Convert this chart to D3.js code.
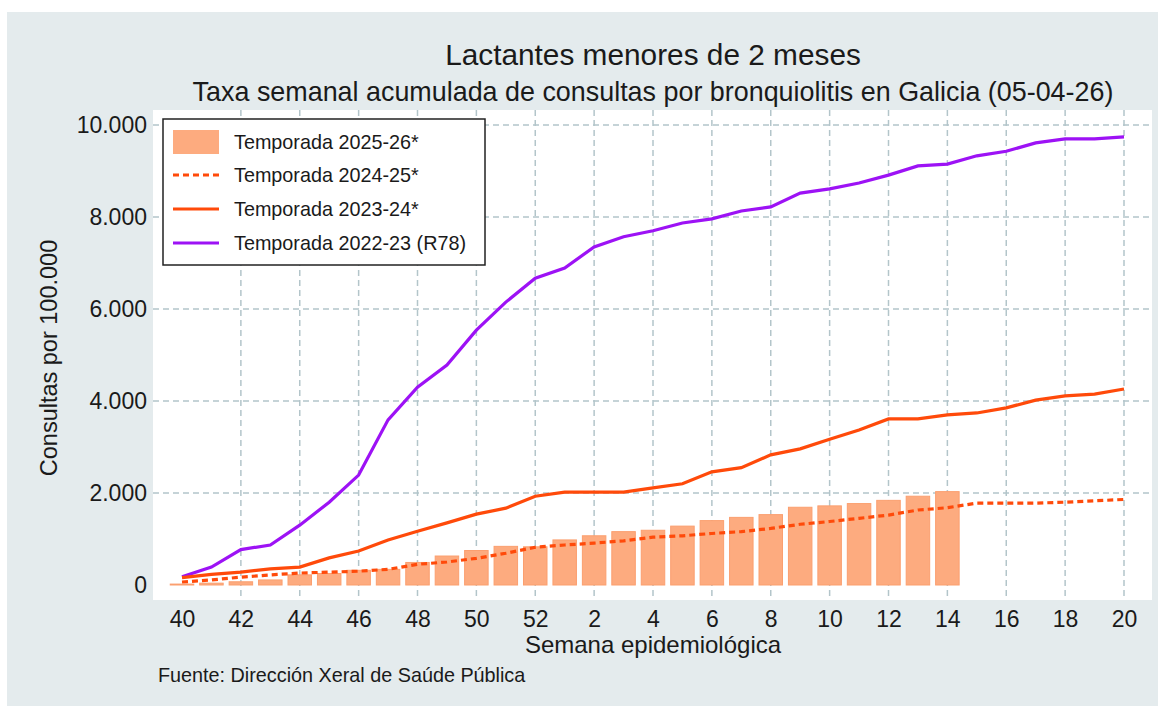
<!DOCTYPE html>
<html>
<head>
<meta charset="utf-8">
<script src="https://cdn.jsdelivr.net/npm/d3@7"></script>
<style>
  body { margin: 0; background: #ffffff; }
  svg { display: block; font-family: "Liberation Sans", Arial, sans-serif; }
</style>
</head>
<body>
<div id="chart"></div>
<script>
// Epidemiological weeks, 40 -> 52 then 1 -> 20
const weeks = [40, 41, 42, 43, 44, 45, 46, 47, 48, 49, 50, 51, 52,
  1, 2, 3, 4, 5, 6, 7, 8, 9, 10, 11, 12, 13, 14, 15, 16, 17, 18, 19, 20];

const tickWeeks = [40, 42, 44, 46, 48, 50, 52, 2, 4, 6, 8, 10, 12, 14, 16, 18, 20];
const yTicks = [0, 2000, 4000, 6000, 8000, 10000];

// Season 2025-26 (bars, up to week 14)
const season2526 = [20, 40, 70, 110, 220, 250, 320, 340, 490, 630, 750, 840, 830,
  980, 1070, 1160, 1190, 1280, 1400, 1470, 1530, 1690, 1720, 1770, 1840, 1930, 2030];

// Season 2024-25 (dotted)
const season2425 = [65, 110, 170, 220, 260, 280, 300, 340, 450, 500, 580, 690, 820,
  870, 910, 960, 1040, 1070, 1120, 1160, 1230, 1320, 1380, 1450, 1520, 1630, 1680,
  1780, 1780, 1780, 1800, 1830, 1860];

// Season 2023-24 (solid orange)
const season2324 = [160, 230, 280, 350, 390, 590, 740, 980, 1170, 1350, 1540, 1670, 1930,
  2020, 2020, 2020, 2110, 2200, 2460, 2550, 2830, 2960, 3170, 3370, 3610, 3610, 3700,
  3740, 3850, 4020, 4110, 4150, 4260];

// Season 2022-23 (purple)
const season2223 = [180, 390, 770, 870, 1300, 1800, 2390, 3590, 4300, 4780, 5540, 6150, 6670,
  6890, 7350, 7570, 7700, 7870, 7960, 8130, 8220, 8520, 8610, 8740, 8910, 9110, 9150,
  9330, 9430, 9610, 9700, 9700, 9740];

const legendLabels = ["Temporada 2025-26*", "Temporada 2024-25*", "Temporada 2023-24*", "Temporada 2022-23 (R78)"];

const width = 1164;
const height = 706;
const plot = { left: 153, right: 1152, top: 110, bottom: 600 };

const orange = "#ff4a0a";
const purple = "#9d12f5";
const barFill = "#fdab7f";
const gridColor = "#b3c5ca";

const svg = d3.select("#chart")
  .append("svg")
  .attr("width", width)
  .attr("height", height);

// background panel + plot region
svg.append("rect")
  .attr("x", 7).attr("y", 12)
  .attr("width", 1151).attr("height", height - 12)
  .attr("fill", "#e4ebed");

svg.append("rect")
  .attr("x", plot.left).attr("y", plot.top)
  .attr("width", plot.right - plot.left).attr("height", plot.bottom - plot.top)
  .attr("fill", "#ffffff");

const x = d3.scalePoint().domain(weeks).range([182, 1124]);
const y = d3.scaleLinear().domain([0, 10000]).range([585, 125]);

// grid
svg.append("g")
  .selectAll("line")
  .data(yTicks.filter(d => d > 0))
  .enter()
  .append("line")
  .attr("x1", plot.left).attr("x2", plot.right)
  .attr("y1", d => y(d)).attr("y2", d => y(d))
  .attr("stroke", gridColor)
  .attr("stroke-width", 1.5)
  .attr("stroke-dasharray", "6,4");

svg.append("g")
  .selectAll("line")
  .data(tickWeeks.filter(d => d !== 40))
  .enter()
  .append("line")
  .attr("x1", d => x(d)).attr("x2", d => x(d))
  .attr("y1", plot.top).attr("y2", plot.bottom)
  .attr("stroke", gridColor)
  .attr("stroke-width", 1.5)
  .attr("stroke-dasharray", "6,4");

// axes (labels only, no domain line)
const yAxis = d3.axisLeft(y)
  .tickValues(yTicks)
  .tickSize(0)
  .tickPadding(0)
  .tickFormat(d => d3.format(",")(d).replace(/,/g, "."));

svg.append("g")
  .attr("transform", "translate(147,0)")
  .call(yAxis)
  .call(g => g.select(".domain").remove())
  .selectAll("text")
  .attr("font-size", 23)
  .attr("font-family", "Liberation Sans, Arial, sans-serif")
  .attr("fill", "#1a1a1a");

const xAxis = d3.axisBottom(x)
  .tickValues(tickWeeks)
  .tickSize(0)
  .tickPadding(0);

svg.append("g")
  .attr("transform", "translate(0,611)")
  .call(xAxis)
  .call(g => g.select(".domain").remove())
  .selectAll("text")
  .attr("font-size", 23)
  .attr("font-family", "Liberation Sans, Arial, sans-serif")
  .attr("fill", "#1a1a1a");

// bars
const barWidth = 23.5;
svg.append("g")
  .selectAll("rect")
  .data(season2526)
  .enter()
  .append("rect")
  .attr("x", (d, i) => x(weeks[i]) - barWidth / 2)
  .attr("y", d => y(d))
  .attr("width", barWidth)
  .attr("height", d => y(0) - y(d))
  .attr("fill", barFill)
  .attr("stroke", "#fb9f6f")
  .attr("stroke-width", 1);

// lines
const line = d3.line()
  .x((d, i) => x(weeks[i]))
  .y(d => y(d));

svg.append("path")
  .datum(season2223)
  .attr("d", line)
  .attr("fill", "none")
  .attr("stroke", purple)
  .attr("stroke-width", 3.2);

svg.append("path")
  .datum(season2324)
  .attr("d", line)
  .attr("fill", "none")
  .attr("stroke", orange)
  .attr("stroke-width", 3.2);

svg.append("path")
  .datum(season2425)
  .attr("d", line)
  .attr("fill", "none")
  .attr("stroke", orange)
  .attr("stroke-width", 3.2)
  .attr("stroke-dasharray", "6,4");

// legend
const legend = svg.append("g").attr("transform", "translate(163,119)");

legend.append("rect")
  .attr("width", 322).attr("height", 146)
  .attr("fill", "#ffffff")
  .attr("stroke", "#222")
  .attr("stroke-width", 1.5);

const rowY = [23, 56, 90, 124];

legend.append("rect")
  .attr("x", 10).attr("y", rowY[0] - 12)
  .attr("width", 46).attr("height", 24)
  .attr("fill", barFill);

legend.append("line")
  .attr("x1", 10).attr("x2", 56)
  .attr("y1", rowY[1]).attr("y2", rowY[1])
  .attr("stroke", orange).attr("stroke-width", 3.2)
  .attr("stroke-dasharray", "6,4");

legend.append("line")
  .attr("x1", 10).attr("x2", 56)
  .attr("y1", rowY[2]).attr("y2", rowY[2])
  .attr("stroke", orange).attr("stroke-width", 3.2);

legend.append("line")
  .attr("x1", 10).attr("x2", 56)
  .attr("y1", rowY[3]).attr("y2", rowY[3])
  .attr("stroke", purple).attr("stroke-width", 3.2);

legend.selectAll(".legend-label")
  .data(legendLabels)
  .enter()
  .append("text")
  .attr("class", "legend-label")
  .attr("x", 71)
  .attr("y", (d, i) => rowY[i] + 7)
  .attr("font-size", 19.8)
  .attr("fill", "#1a1a1a")
  .text(d => d);

// titles
svg.append("text")
  .attr("x", 653).attr("y", 65)
  .attr("text-anchor", "middle")
  .attr("font-size", 29.8)
  .attr("fill", "#1a1a1a")
  .text("Lactantes menores de 2 meses");

svg.append("text")
  .attr("x", 653).attr("y", 101)
  .attr("text-anchor", "middle")
  .attr("font-size", 26.9)
  .attr("fill", "#1a1a1a")
  .text("Taxa semanal acumulada de consultas por bronquiolitis en Galicia (05-04-26)");

svg.append("text")
  .attr("x", 653).attr("y", 653)
  .attr("text-anchor", "middle")
  .attr("font-size", 24)
  .attr("fill", "#1a1a1a")
  .text("Semana epidemiológica");

svg.append("text")
  .attr("transform", "translate(57,358) rotate(-90)")
  .attr("text-anchor", "middle")
  .attr("font-size", 23.5)
  .attr("fill", "#1a1a1a")
  .text("Consultas por 100.000");

svg.append("text")
  .attr("x", 158).attr("y", 682)
  .attr("font-size", 19.8)
  .attr("fill", "#1a1a1a")
  .text("Fuente: Dirección Xeral de Saúde Pública");
</script>
</body>
</html>
